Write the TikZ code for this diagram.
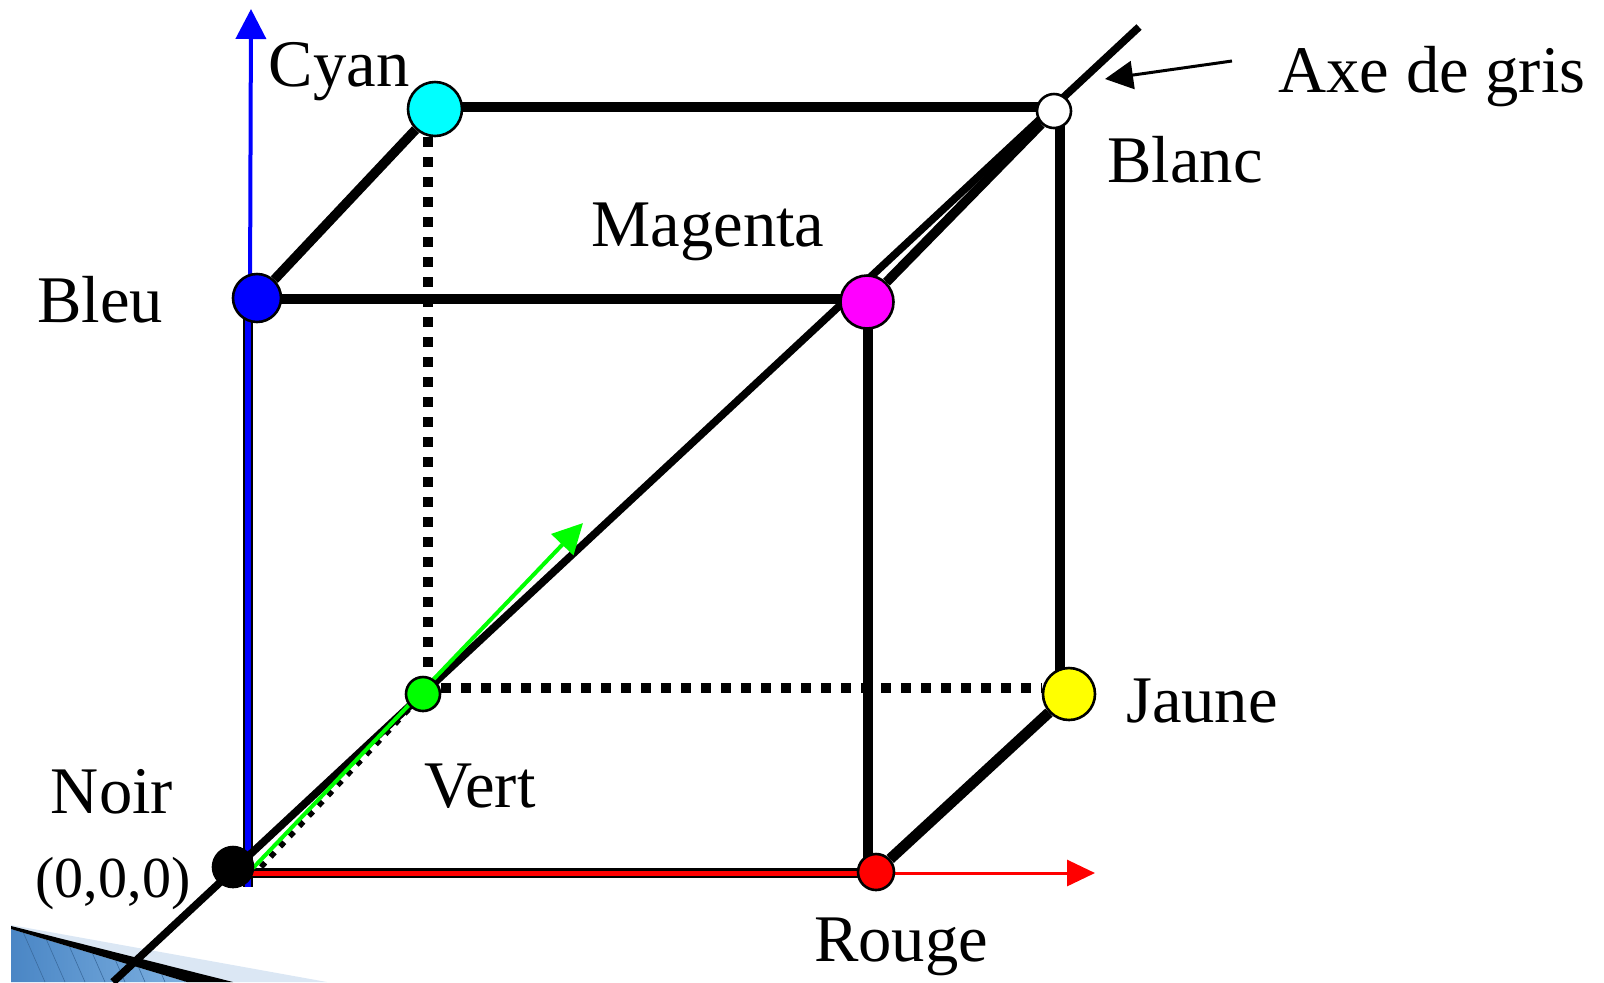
\documentclass[tikz,border=0pt]{standalone}
\usepackage{fontspec}
\setmainfont{Liberation Serif}
\usetikzlibrary{arrows.meta, backgrounds}
\definecolor{bulletlight}{RGB}{219, 231, 244}
\definecolor{bulletblue}{RGB}{74, 134, 197}
\definecolor{bulletsky}{RGB}{125, 176, 224}
\definecolor{purecyan}{RGB}{0, 255, 255}
\definecolor{puremagenta}{RGB}{255, 0, 255}
\definecolor{pureyellow}{RGB}{255, 255, 0}
\tikzset{
  corner/.style={circle, draw=black, line width=1.3pt, inner sep=0pt},
  cubeedge/.style={black, line width=4.8pt},
  hiddenedge/.style={black, line width=4.6pt, dash pattern=on 4.6pt off 5.4pt},
  axisline/.style={black, line width=3.8pt},
  word/.style={font=\fontsize{33.3}{33}\selectfont, anchor=base, inner sep=0pt}
}
\begin{document}
\begin{tikzpicture}[x=0.5pt, y=-0.5pt]
\useasboundingbox (0,0) rectangle (1604,982);
% corners of the cube
\node[corner, fill=black, minimum size=20pt] (noir) at (233,867) {};
\node[corner, fill=red, minimum size=18pt] (rouge) at (876,872) {};
\node[corner, fill=green, minimum size=17pt] (vert) at (423,694) {};
\node[corner, fill=blue, minimum size=24pt] (bleu) at (257,298) {};
\node[corner, fill=pureyellow, minimum size=26pt] (jaune) at (1069,694) {};
\node[corner, fill=puremagenta, minimum size=26.5pt] (magenta) at (867,302) {};
\node[corner, fill=purecyan, minimum size=27pt] (cyan) at (435,109) {};
\node[corner, fill=white, minimum size=17pt] (blanc) at (1054,111) {};
% free ends
\coordinate (axisdown) at (113,982);
\coordinate (axisup) at (1139,27);
\coordinate (bluefoot) at (248,887);
\coordinate (bluemid) at (250,298);
\coordinate (bluetip) at (251,9);
\coordinate (redfoot) at (250,873);
\coordinate (redtip) at (1095,873);
\coordinate (greenfoot) at (253,868);
\coordinate (greentip) at (583,523);
\coordinate (dashfoot) at (261,867);
\coordinate (greystart) at (1232,61);
\coordinate (greytip) at (1105,79);
% levels of the straight edges
\coordinate (toplevel) at (0,107);
\coordinate (midlevel) at (0,299);
\coordinate (lowlevel) at (0,688);
\coordinate (backline) at (1060,0);
\coordinate (frontline) at (868,0);
\coordinate (hiddenline) at (428,0);
% labels
\node[word] (lcyan) at (339,86) {Cyan};
\node[word] (laxe) at (1432,92) {Axe de gris};
\node[word] (lblanc) at (1185,182) {Blanc};
\node[word] (lmagenta) at (708,246) {Magenta};
\node[word] (lbleu) at (100,322) {Bleu};
\node[word] (ljaune) at (1202,722) {Jaune};
\node[word] (lvert) at (480,807) {Vert};
\node[word] (lnoir) at (112,813) {Noir};
\node[word, font=\fontsize{29}{29}\selectfont] (lorigin) at (113,897) {(0,0,0)};
\node[word] (lrouge) at (901,961) {Rouge};
\begin{scope}[on background layer]
% corner of the slide bullet
\fill[bulletlight] (11,925) -- (327,982) -- (11,982) -- cycle;
\shade[left color=bulletblue, right color=bulletsky] (11,929) -- (187,982) -- (11,982) -- cycle;
\begin{scope}
\clip (11,929) -- (187,982) -- (11,982) -- cycle;
\foreach \hx in {20,40,...,200} \draw[bulletblue!80!black, line width=0.3pt] (\hx,925) -- (\hx+25,982);
\end{scope}
\fill[black] (11,926) -- (233,982) -- (187,982) -- (11,929) -- cycle;
% axes
\draw[cubeedge] (bleu.center -| bluefoot) -- (bluefoot);
\draw[blue, line width=2.8pt] (bluefoot) -- (bleu.center -| bluefoot);
\draw[-{Triangle[length=15pt, width=15pt]}, blue, line width=2pt] (bluemid) -- (bluetip);
\draw[cubeedge] (redfoot) -- (rouge.center |- redfoot);
\draw[red, line width=2.5pt] (redfoot) -- (rouge.center |- redfoot);
\draw[-{Triangle[length=14pt, width=13pt]}, red, line width=1.5pt] (rouge.center |- redfoot) -- (redtip);
% cube
\draw[cubeedge] (bleu) -- (cyan);
\draw[cubeedge] (cyan.center |- toplevel) -- (blanc.center |- toplevel);
\draw[cubeedge] (bleu.center |- midlevel) -- (magenta.center |- midlevel);
\draw[cubeedge] (magenta) -- (blanc);
\draw[cubeedge] (magenta.center -| frontline) -- (rouge.center -| frontline);
\draw[black, line width=5.4pt] (rouge) -- (jaune);
\draw[cubeedge] (blanc.center -| backline) -- (jaune.center -| backline);
\draw[hiddenedge] (cyan.south -| hiddenline) -- (vert.north -| hiddenline);
\draw[hiddenedge] (vert.east |- lowlevel) -- (jaune.west |- lowlevel);
% grey axis
\draw[axisline] (axisdown) -- (axisup);
\draw[black, line width=2.8pt, dash pattern=on 3pt off 4pt] (dashfoot) -- (vert);
\draw[-{Triangle[length=15pt, width=15pt]}, green, line width=2pt] (greenfoot) -- (greentip);
\end{scope}
\draw[-{Triangle[length=14pt, width=14pt]}, black, line width=1.5pt] (greystart) -- (greytip);
\end{tikzpicture}
\end{document}
